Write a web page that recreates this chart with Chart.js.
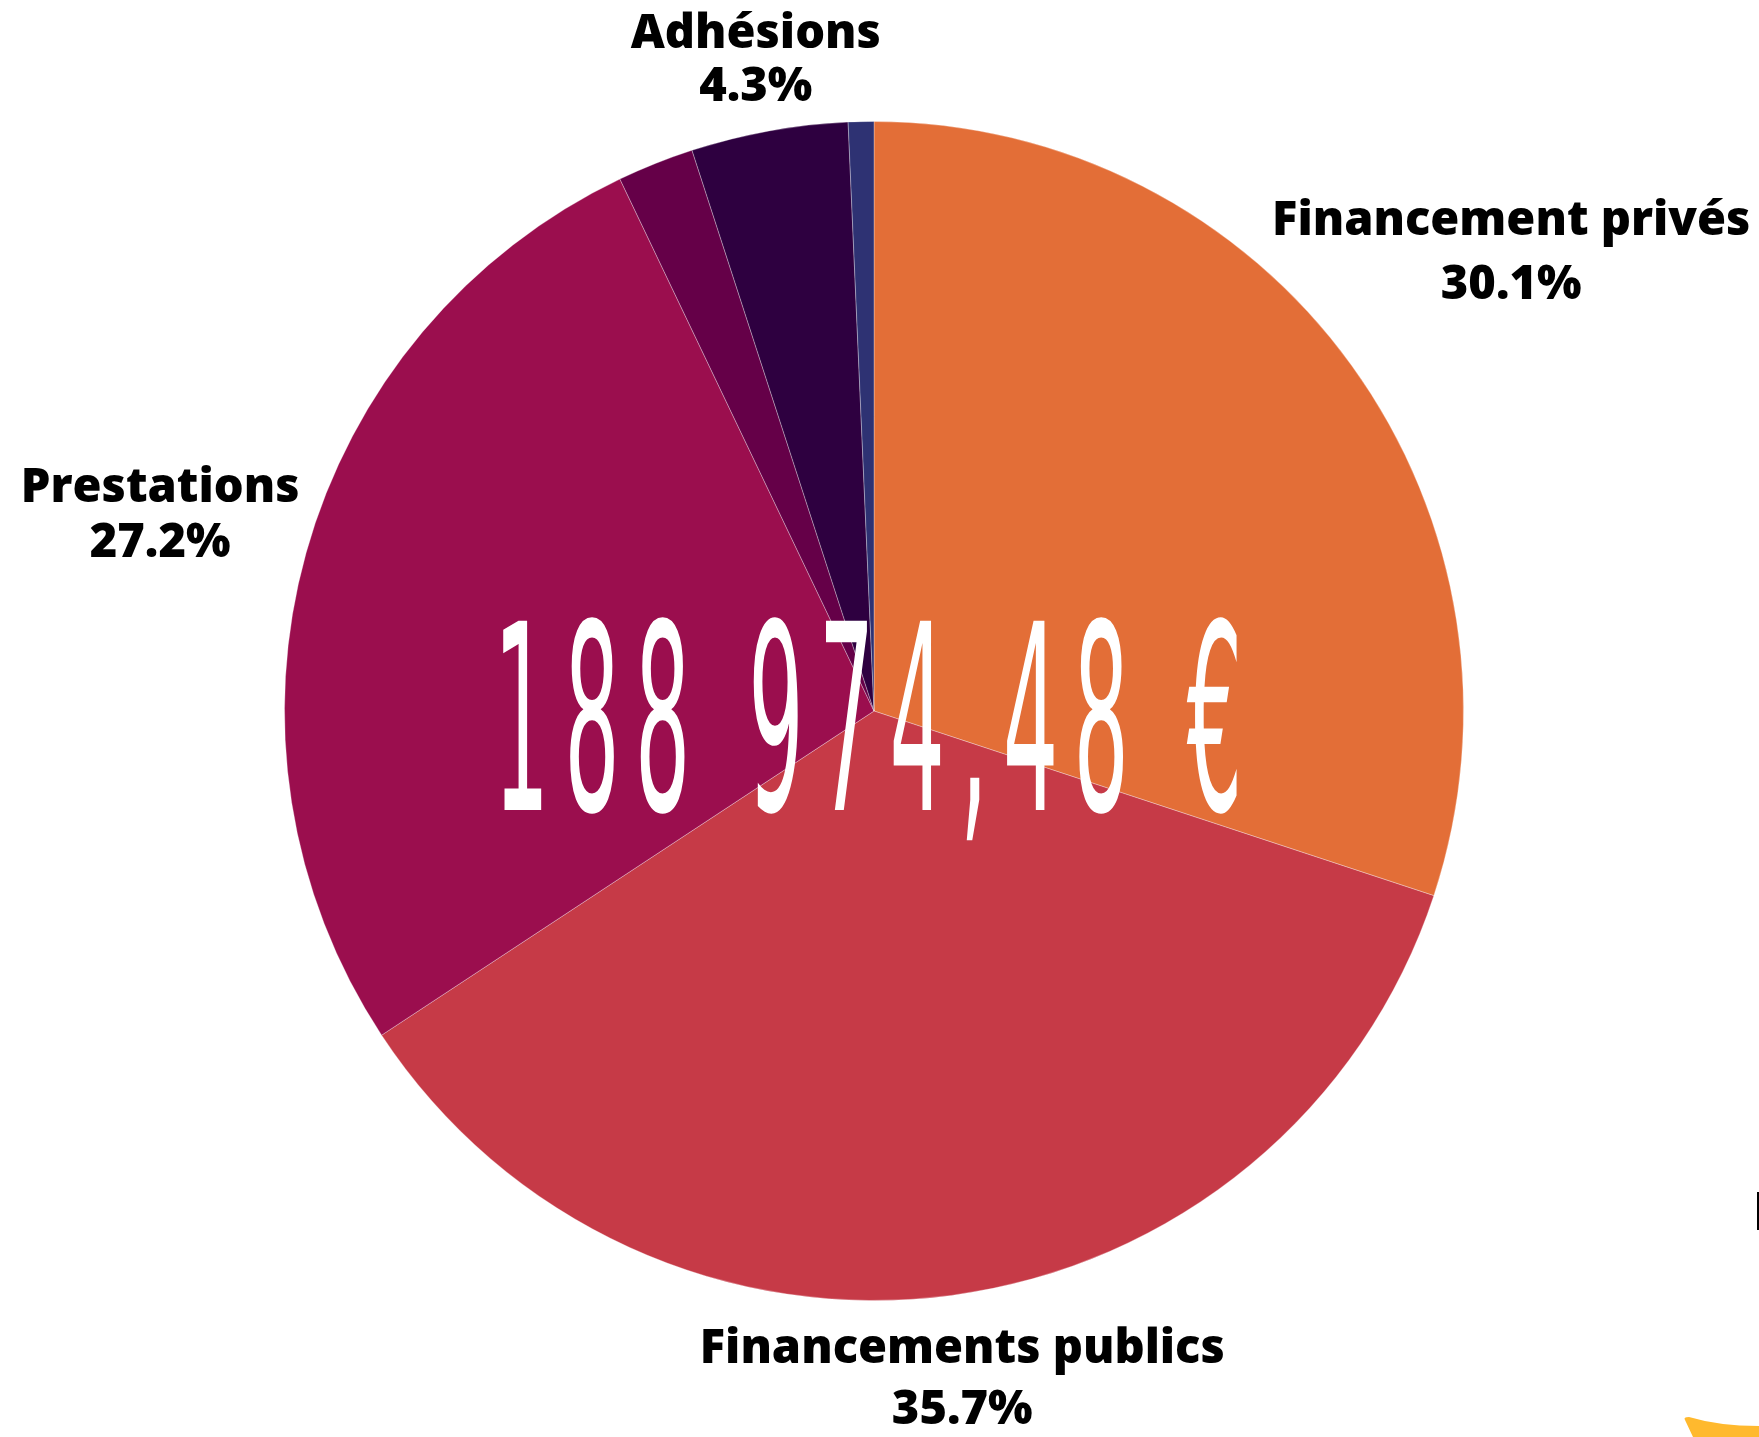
<!DOCTYPE html>
<html>
<head>
<meta charset="utf-8">
<style>
html,body{margin:0;padding:0;background:#fff;overflow:hidden}
canvas{display:block}
</style>
<script src="https://cdn.jsdelivr.net/npm/chart.js@4/dist/chart.umd.min.js"></script>
</head>
<body>
<canvas id="c" width="1759" height="1437"></canvas>
<script>
// ---- data ----
const categories = ['Financement privés', 'Financements publics', 'Prestations', 'Autres', 'Adhésions', 'Divers'];
const values = [30.1, 35.7, 27.2, 2.1, 4.3, 0.7];
const labelShown = [true, true, true, false, true, false];
const totalLabel = '188 974,48 €';

// ---- style ----
const colors = ['#E36E37', '#C63A47', '#9B0E4E', '#650048', '#2E0040', '#2E3273'];
const labelDist = [1.334, 1.139, 1.257, 0, 1.127, 0];
const labelGap = [64, 61, 55, 0, 53, 0];

const labelPlugin = {
  id: 'outerLabels',
  afterDatasetsDraw(chart) {
    const ctx = chart.ctx;
    const meta = chart.getDatasetMeta(0);
    ctx.save();
    ctx.fillStyle = '#000';
    ctx.textAlign = 'center';
    ctx.textBaseline = 'alphabetic';
    ctx.font = '800 47px "Open Sans", "Noto Sans", sans-serif';
    const capH = 34;
    meta.data.forEach((arc, i) => {
      if (!labelShown[i]) return;
      const p = arc.getProps(['x', 'y', 'startAngle', 'endAngle', 'outerRadius'], true);
      const mid = (p.startAngle + p.endAngle) / 2;
      const d = p.outerRadius * labelDist[i];
      const cx = p.x + Math.cos(mid) * d;
      const cy = p.y + Math.sin(mid) * d;
      const gap = labelGap[i];
      const top = cy - (capH + gap) / 2;
      ctx.fillText(chart.data.labels[i], cx, top + capH);
      ctx.fillText(values[i].toFixed(1) + '%', cx, top + capH + gap);
    });
    ctx.restore();
  }
};

const centerPlugin = {
  id: 'centerTotal',
  afterDraw(chart) {
    const ctx = chart.ctx;
    const arc = chart.getDatasetMeta(0).data[0];
    const p = arc.getProps(['x', 'y', 'outerRadius'], true);
    ctx.save();
    const size = Math.round(p.outerRadius * 0.165);
    ctx.font = size + 'px "Liberation Sans Narrow", "DejaVu Sans Condensed", sans-serif';
    const chars = Array.from(totalLabel);
    const widths = chars.map(c => ctx.measureText(c).width);
    const natural = widths.reduce((a, b) => a + b, 0);
    const m8 = ctx.measureText('8');
    const targetW = p.outerRadius * 1.27;
    const targetH = p.outerRadius * 0.327;
    const ls = (targetW - natural) / (chars.length - 1);
    const sy = targetH / m8.actualBoundingBoxAscent;
    ctx.translate(p.x - 6, p.y + p.outerRadius * 0.168);
    ctx.scale(1, sy);
    ctx.fillStyle = '#fff';
    ctx.textAlign = 'left';
    ctx.textBaseline = 'alphabetic';
    let x = -targetW / 2;
    chars.forEach((c, i) => {
      ctx.fillText(c, x, 0);
      x += widths[i] + ls;
    });
    ctx.restore();
  }
};

const decorPlugin = {
  id: 'decor',
  afterDraw(chart) {
    const ctx = chart.ctx;
    const W = chart.width, H = chart.height;
    ctx.save();
    ctx.fillStyle = '#FFB92E';
    ctx.beginPath();
    ctx.moveTo(W - 74, H - 17);
    ctx.quadraticCurveTo(W - 76, H - 20, W - 70, H - 20);
    ctx.quadraticCurveTo(W - 40, H - 11, W, H - 11);
    ctx.lineTo(W, H);
    ctx.lineTo(W - 66, H);
    ctx.closePath();
    ctx.fill();
    ctx.fillStyle = '#000';
    ctx.fillRect(W - 2, 1192, 2, 38);
    ctx.restore();
  }
};

new Chart(document.getElementById('c').getContext('2d'), {
  type: 'pie',
  data: {
    labels: categories,
    datasets: [{
      data: values,
      backgroundColor: colors,
      borderColor: 'rgba(255,255,255,0.3)',
      borderWidth: 1
    }]
  },
  options: {
    responsive: false,
    animation: false,
    layout: { padding: { left: 284, right: 295, top: 121, bottom: 136 } },
    plugins: { legend: { display: false }, tooltip: { enabled: false } }
  },
  plugins: [labelPlugin, centerPlugin, decorPlugin]
});
</script>
</body>
</html>
